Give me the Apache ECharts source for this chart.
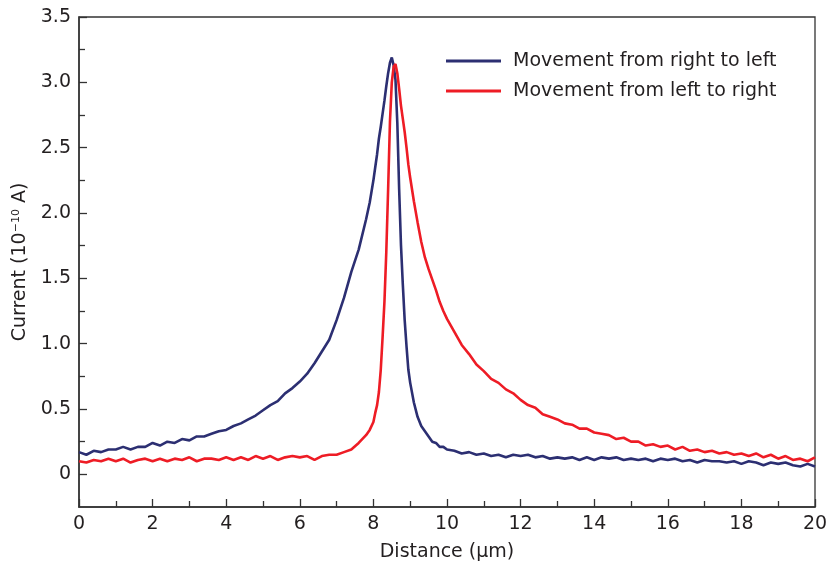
<!DOCTYPE html>
<html>
<head>
<meta charset="utf-8">
<script src="https://cdn.jsdelivr.net/npm/echarts@6/dist/echarts.min.js"></script>
<style>
  html, body { margin: 0; padding: 0; background: #fff; }
  #chart { width: 826px; height: 565px; }
</style>
</head>
<body>
<div id="chart"></div>
<script>
// Tip position (µm), sampled finer across the peak
const distance = [
  0, 0.2, 0.4, 0.6, 0.8, 1.0, 1.2, 1.4, 1.6, 1.8,
  2.0, 2.2, 2.4, 2.6, 2.8, 3.0, 3.2, 3.4, 3.6, 3.8,
  4.0, 4.2, 4.4, 4.6, 4.8, 5.0, 5.2, 5.4, 5.6, 5.8,
  6.0, 6.2, 6.4, 6.6, 6.8, 7.0, 7.2, 7.4, 7.6, 7.8,
  7.9, 8.0, 8.05, 8.1, 8.15, 8.2, 8.25, 8.3, 8.35, 8.4,
  8.45, 8.5, 8.55, 8.6, 8.65, 8.7, 8.75, 8.8, 8.85, 8.9,
  8.95, 9.0, 9.1, 9.2, 9.3, 9.4, 9.5, 9.6, 9.7, 9.8,
  9.9, 10.0,
  10.2, 10.4, 10.6, 10.8, 11.0, 11.2, 11.4, 11.6, 11.8, 12.0,
  12.2, 12.4, 12.6, 12.8, 13.0, 13.2, 13.4, 13.6, 13.8, 14.0,
  14.2, 14.4, 14.6, 14.8, 15.0, 15.2, 15.4, 15.6, 15.8, 16.0,
  16.2, 16.4, 16.6, 16.8, 17.0, 17.2, 17.4, 17.6, 17.8, 18.0,
  18.2, 18.4, 18.6, 18.8, 19.0, 19.2, 19.4, 19.6, 19.8, 20.0
];

// Current (10^-10 A), movement from right to left
const currentRightToLeft = [
  0.17, 0.15, 0.18, 0.17, 0.19, 0.19, 0.21, 0.19, 0.21, 0.21,
  0.24, 0.22, 0.25, 0.24, 0.27, 0.26, 0.29, 0.29, 0.31, 0.33,
  0.34, 0.37, 0.39, 0.42, 0.45, 0.49, 0.53, 0.56, 0.62, 0.66,
  0.71, 0.77, 0.85, 0.94, 1.03, 1.18, 1.35, 1.55, 1.72, 1.95,
  2.08, 2.25, 2.35, 2.45, 2.57, 2.66, 2.76, 2.86, 2.97, 3.07,
  3.15, 3.19, 3.13, 3.02, 2.69, 2.18, 1.75, 1.45, 1.18, 0.98,
  0.80, 0.70, 0.55, 0.44, 0.37, 0.33, 0.29, 0.25, 0.24, 0.21,
  0.21, 0.19,
  0.18, 0.16, 0.17, 0.15, 0.16, 0.14, 0.15, 0.13, 0.15, 0.14,
  0.15, 0.13, 0.14, 0.12, 0.13, 0.12, 0.13, 0.11, 0.13, 0.11,
  0.13, 0.12, 0.13, 0.11, 0.12, 0.11, 0.12, 0.10, 0.12, 0.11,
  0.12, 0.10, 0.11, 0.09, 0.11, 0.10, 0.10, 0.09, 0.10, 0.08,
  0.10, 0.09, 0.07, 0.09, 0.08, 0.09, 0.07, 0.06, 0.08, 0.06
];

// Current (10^-10 A), movement from left to right
const currentLeftToRight = [
  0.10, 0.09, 0.11, 0.10, 0.12, 0.10, 0.12, 0.09, 0.11, 0.12,
  0.10, 0.12, 0.10, 0.12, 0.11, 0.13, 0.10, 0.12, 0.12, 0.11,
  0.13, 0.11, 0.13, 0.11, 0.14, 0.12, 0.14, 0.11, 0.13, 0.14,
  0.13, 0.14, 0.11, 0.14, 0.15, 0.15, 0.17, 0.19, 0.24, 0.30,
  0.34, 0.40, 0.47, 0.53, 0.63, 0.80, 1.05, 1.32, 1.70, 2.18,
  2.70, 3.00, 3.12, 3.14, 3.07, 2.95, 2.82, 2.72, 2.62, 2.50,
  2.37, 2.27, 2.09, 1.93, 1.78, 1.66, 1.57, 1.49, 1.41, 1.32,
  1.25, 1.19,
  1.09, 0.99, 0.92, 0.84, 0.79, 0.73, 0.70, 0.65, 0.62, 0.57,
  0.53, 0.51, 0.46, 0.44, 0.42, 0.39, 0.38, 0.35, 0.35, 0.32,
  0.31, 0.30, 0.27, 0.28, 0.25, 0.25, 0.22, 0.23, 0.21, 0.22,
  0.19, 0.21, 0.18, 0.19, 0.17, 0.18, 0.16, 0.17, 0.15, 0.16,
  0.14, 0.16, 0.13, 0.15, 0.12, 0.14, 0.11, 0.12, 0.10, 0.13
];

const xTicks = [0, 2, 4, 6, 8, 10, 12, 14, 16, 18, 20];
const yMajorTicks = [0, 0.5, 1.0, 1.5, 2.0, 2.5, 3.0, 3.5];
const yMinorTicks = [0.25, 0.75, 1.25, 1.75, 2.25, 2.75, 3.25];

const seriesNames = ['Movement from right to left', 'Movement from left to right'];
const seriesColors = ['#2c2f72', '#ee1c25'];

const FONT = '"DejaVu Sans", "Liberation Sans", Arial, sans-serif';
const FONT_SIZE = 19;
const INK = '#231f20';
const AXIS = '#333333';

const pairs = (ys) => distance.map((d, i) => [d, ys[i]]);

const chart = echarts.init(document.getElementById('chart'), null, { renderer: 'canvas' });

chart.setOption({
  animation: false,
  backgroundColor: '#ffffff',
  grid: {
    left: 79, right: 11, top: 17, bottom: 58,
    outerBoundsMode: 'none', containLabel: false,
    show: true, borderColor: AXIS, borderWidth: 1.3, backgroundColor: 'transparent'
  },
  legend: {
    left: 446, top: 50, orient: 'vertical', padding: 0,
    icon: 'rect', itemWidth: 55, itemHeight: 3, itemGap: 8,
    data: seriesNames,
    textStyle: { fontFamily: FONT, fontSize: FONT_SIZE, color: INK, lineHeight: 22, padding: [0, 0, 0, 7] }
  },
  xAxis: {
    type: 'value', min: 0, max: 20, interval: 2,
    name: 'Distance (\u03bcm)', nameLocation: 'middle', nameGap: 36,
    nameTextStyle: { fontFamily: FONT, fontSize: FONT_SIZE, color: INK },
    axisLine: { show: true, onZero: false, lineStyle: { color: AXIS, width: 1.5 } },
    axisTick: { show: true, inside: true, length: 8, lineStyle: { color: AXIS, width: 1.3 } },
    minorTick: { show: true, splitNumber: 2, length: 6, lineStyle: { color: AXIS, width: 1.3 } },
    axisLabel: { fontFamily: FONT, fontSize: FONT_SIZE, color: INK, margin: 8,
      customValues: xTicks, formatter: (v) => String(v) },
    splitLine: { show: false }, minorSplitLine: { show: false }
  },
  yAxis: [
    {
      type: 'value', min: -0.25, max: 3.5,
      name: 'Current (10{sup|\u221210} A)', nameLocation: 'middle', nameGap: 48, nameRotate: 90,
      nameTextStyle: { fontFamily: FONT, fontSize: FONT_SIZE, color: INK,
        rich: { sup: { fontFamily: FONT, fontSize: 11, color: INK, verticalAlign: 'top', lineHeight: 14, padding: [0, 0, 8, 0] } } },
      axisLine: { show: true, onZero: false, lineStyle: { color: AXIS, width: 1.5 } },
      axisTick: { show: true, inside: true, length: 8, customValues: yMajorTicks, lineStyle: { color: AXIS, width: 1.3 } },
      axisLabel: { fontFamily: FONT, fontSize: FONT_SIZE, color: INK, margin: 8, customValues: yMajorTicks,
        formatter: (v) => (v === 0 ? '0' : v.toFixed(1)) },
      splitLine: { show: false }
    },
    {
      type: 'value', min: -0.25, max: 3.5, position: 'left',
      axisLine: { show: false, onZero: false },
      axisTick: { show: true, inside: true, length: 6, customValues: yMinorTicks, lineStyle: { color: AXIS, width: 1.3 } },
      axisLabel: { show: false },
      splitLine: { show: false }
    }
  ],
  series: [
    {
      name: seriesNames[0], type: 'line', data: pairs(currentRightToLeft),
      showSymbol: false, symbol: 'none', color: seriesColors[0],
      lineStyle: { color: seriesColors[0], width: 2.6 }, z: 3
    },
    {
      name: seriesNames[1], type: 'line', data: pairs(currentLeftToRight),
      showSymbol: false, symbol: 'none', color: seriesColors[1],
      lineStyle: { color: seriesColors[1], width: 2.6 }, z: 4
    }
  ]
});
</script>
</body>
</html>
